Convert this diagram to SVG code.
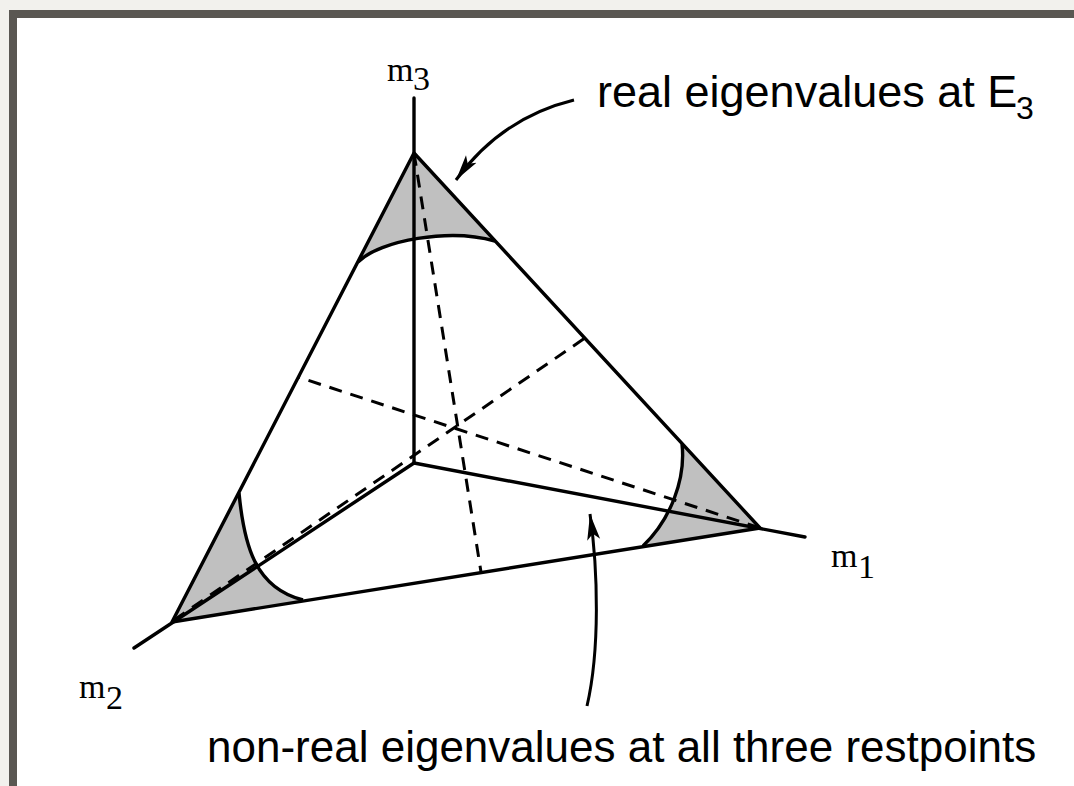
<svg xmlns="http://www.w3.org/2000/svg" width="1074" height="786" viewBox="0 0 1074 786">
<style>
.solid{fill:none;stroke:#000;stroke-width:3.4;stroke-linecap:round;stroke-linejoin:round}
.dash{fill:none;stroke:#000;stroke-width:3;stroke-dasharray:13 9}
.shade{fill:#c0c0c0;stroke:none}
.curve{fill:none;stroke:#000;stroke-width:3.4}
.lbl{font-family:"Liberation Sans",Arial,sans-serif;font-size:44px;fill:#000}
.m{font-family:"Liberation Serif","Times New Roman",serif;font-size:34px;fill:#000}
.arr{fill:none;stroke:#000;stroke-width:3}
</style>
<defs>
<marker id="ah" markerWidth="28" markerHeight="16" refX="26" refY="8" orient="auto" markerUnits="userSpaceOnUse">
<path d="M0,1.5 L26,8 L0,14.5 L6,8 Z" fill="#000"/>
</marker>
</defs>
<rect x="0" y="0" width="1074" height="786" fill="#f2f1ed"/>
<rect x="9" y="10" width="1065" height="776" fill="#5a5752"/>
<rect x="17" y="18" width="1057" height="768" fill="#fff"/>

<g id="shading">
<path class="shade" d="M414,153 L358,262 C380,240 450,228 495,241 Z"/>
<path class="shade" d="M172,622 L239,493 C244,545 255,588 303,600 Z"/>
<path class="shade" d="M760,528 L682,444 C686,480 670,520 643,546 Z"/>
</g>

<g id="dashed">
<line class="dash" x1="414" y1="153" x2="481" y2="572"/>
<line class="dash" x1="760" y1="528" x2="298" y2="377"/>
<line class="dash" x1="174" y1="620" x2="585" y2="338"/>
</g>

<g id="axes">
<line class="solid" x1="414" y1="98" x2="414" y2="463"/>
<line class="solid" x1="414" y1="463" x2="805" y2="537"/>
<line class="solid" x1="414" y1="463" x2="134" y2="648"/>
</g>

<g id="triangle">
<path class="solid" d="M414,153 L760,528 L172,622 Z"/>
</g>

<g id="boundaries">
<path class="curve" d="M358,262 C380,240 450,228 495,241"/>
<path class="curve" d="M239,493 C244,545 255,588 303,600"/>
<path class="curve" d="M682,444 C686,480 670,520 643,546"/>
</g>

<g id="connectors">
<path class="arr" d="M574,100 C525,112 485,140 456,180" marker-end="url(#ah)"/>
<path class="arr" d="M587,706 C600,650 598,570 590,514" marker-end="url(#ah)"/>
</g>

<g id="label-m3"><text class="m" x="387" y="81">m</text><text class="m" x="413" y="90">3</text></g>
<g id="label-m1"><text class="m" x="831" y="567">m</text><text class="m" x="858" y="578">1</text></g>
<g id="label-m2"><text class="m" x="79" y="698">m</text><text class="m" x="106" y="709">2</text></g>

<g id="label-real"><text class="lbl" x="597" y="107" style="font-size:45px">real eigenvalues at E</text><text class="lbl" x="1016" y="119" style="font-size:32px">3</text></g>
<g id="label-nonreal"><text class="lbl" x="207" y="762">non-real eigenvalues at all three restpoints</text></g>
</svg>
